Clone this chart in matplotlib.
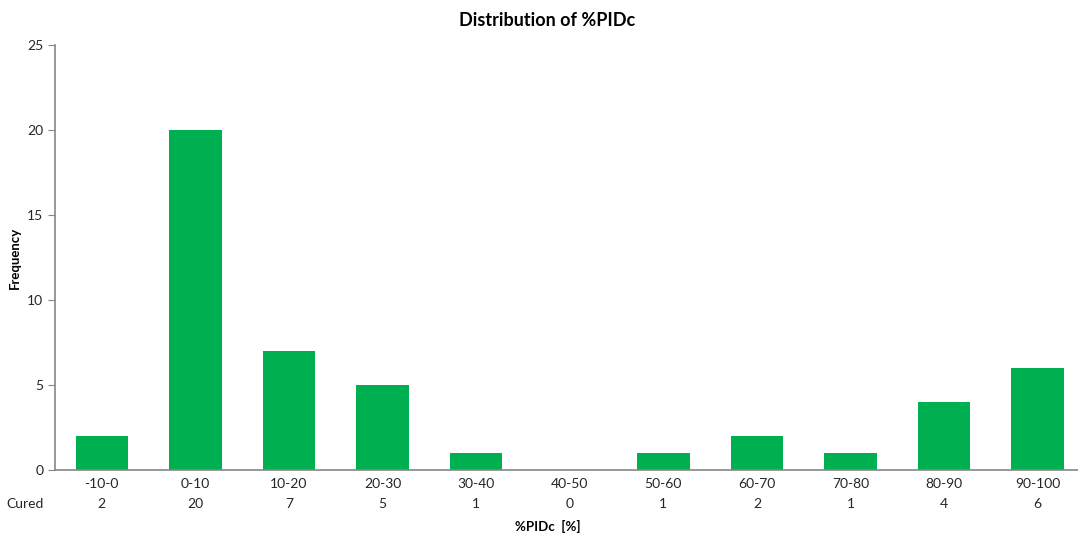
import numpy as np
import matplotlib.pyplot as plt

plt.rcParams['font.family'] = ['Lato', 'DejaVu Sans']

bins = ['-10-0', '0-10', '10-20', '20-30', '30-40', '40-50',
        '50-60', '60-70', '70-80', '80-90', '90-100']
cured = [2, 20, 7, 5, 1, 0, 1, 2, 1, 4, 6]

fig = plt.figure(figsize=(10.78, 5.36), dpi=100)
ax = fig.add_axes([0.051, 0.123, 0.955, 0.793])

x = np.arange(len(bins))
ax.bar(x, cured, width=0.56, color='#00B050')

ax.set_xlim(-0.5, len(bins) - 0.5)
ax.set_ylim(0, 25)
ax.set_yticks([0, 5, 10, 15, 20, 25])
ax.set_xticks(x)
ax.set_xticklabels(bins)

for s in ['top', 'right']:
    ax.spines[s].set_visible(False)
for s in ['left', 'bottom']:
    ax.spines[s].set_color('#868686')
    ax.spines[s].set_linewidth(1.2)

ax.tick_params(axis='y', colors='#868686', length=5, labelcolor='#262626', labelsize=10)
ax.tick_params(axis='x', length=0, pad=6, labelcolor='#262626', labelsize=10)

# data table row
ax.text(-0.047, -0.079, 'Cured', transform=ax.transAxes, ha='left', va='center',
        fontsize=10, color='#262626')
for xi, v in zip(x, cured):
    ax.text(xi, -0.079, str(v), transform=ax.get_xaxis_transform(), ha='center',
            va='center', fontsize=10, color='#262626')

fig.text(0.508, 0.962, 'Distribution of %PIDc', ha='center', va='center',
         fontsize=13, fontweight='bold', color='black')
fig.text(0.014, 0.518, 'Frequency', rotation=90, ha='center', va='center',
         fontsize=9.5, fontweight='bold', color='black')
fig.text(0.508, 0.017, '%PIDc  [%]', ha='center', va='center',
         fontsize=9.5, fontweight='bold', color='black')

fig.savefig('out.png', dpi=100)
